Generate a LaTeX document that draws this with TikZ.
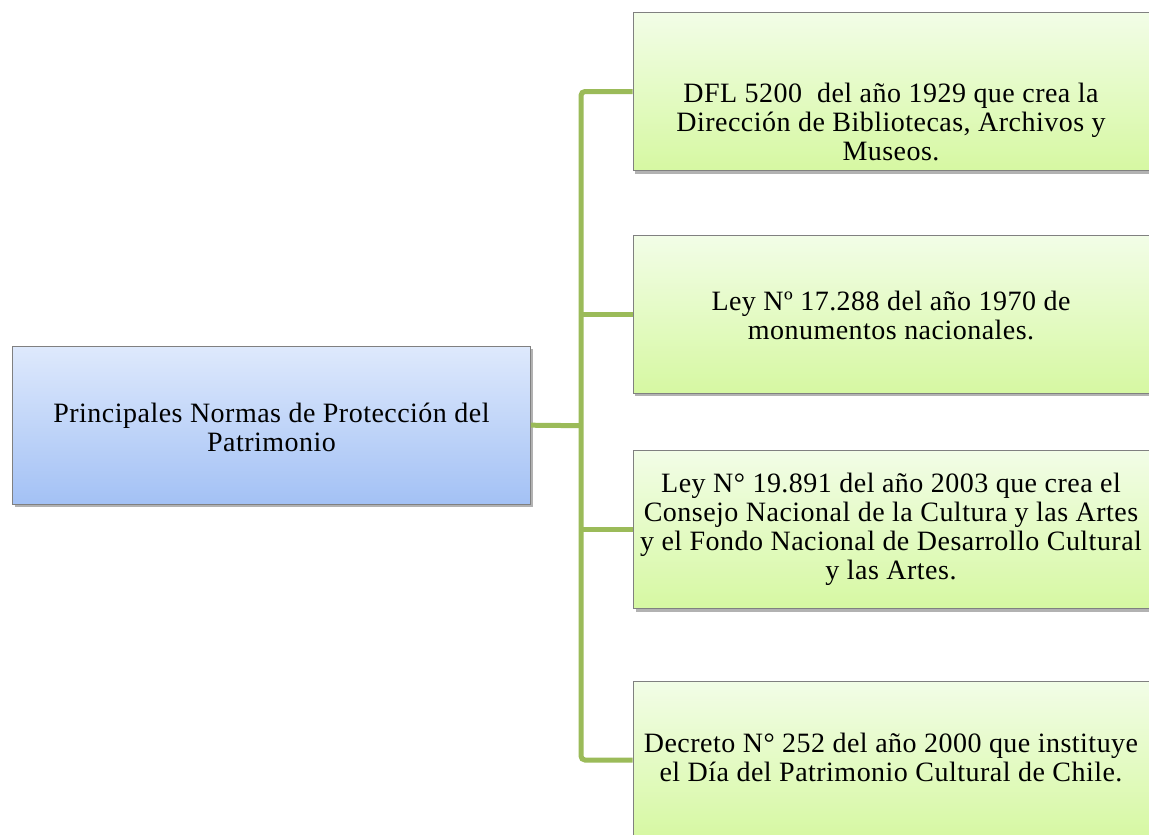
\documentclass[tikz,border=0pt]{standalone}
\usepackage{fontspec}
\setmainfont{Liberation Serif}
\newfontfamily\tnr[LetterSpace=1.7]{Liberation Serif}
\usetikzlibrary{shadows}
\definecolor{connc}{HTML}{9BBB59}
\definecolor{boxline}{HTML}{808080}
\definecolor{bluetop}{HTML}{DEE9FC}
\definecolor{bluebot}{HTML}{A3C1F5}
\definecolor{greentop}{HTML}{F2FDE7}
\definecolor{greenbot}{HTML}{D6F8A2}
\begin{document}
\begin{tikzpicture}[x=1pt,y=-1pt,
  box/.style={draw=boxline, line width=0.8pt, inner sep=0pt, minimum height=158pt,
    drop shadow={shadow xshift=2pt,shadow yshift=-3pt,fill=black,opacity=0.3}},
  bluebox/.style={box, top color=bluetop, bottom color=bluebot, minimum width=518pt},
  greenbox/.style={box, top color=greentop, bottom color=greenbot, minimum width=517pt},
  txt/.style={align=center, font=\tnr\fontsize{28}{29}\selectfont, inner sep=0pt},
  link/.style={draw=connc, line width=5pt, rounded corners=4pt}]
\useasboundingbox (0,0) rectangle (1149,835);
\fill[white] (0,0) rectangle (1149,835);
% boxes
\node[bluebox] (left) at (271.5,425.2) {};
\node[greenbox] (b1) at (891.5,91.5) {};
\node[greenbox] (b2) at (891.5,314.2) {};
\node[greenbox] (b3) at (892,529.5) {};
\node[greenbox] (b4) at (891.5,760) {};
% texts
\node[txt] (tl) at (271.5,427) {Principales Normas de Protección del\\Patrimonio};
\node[txt] (t1) at (891,122) {DFL 5200 \ del año 1929 que crea la\\Dirección de Bibliotecas, Archivos y\\Museos.};
\node[txt] (t2) at (891,315) {Ley Nº 17.288 del año 1970 de\\monumentos nacionales.};
\node[txt] (t3) at (891,529) {Ley N° 19.891 del año 2003 que crea el\\Consejo Nacional de la Cultura y las Artes\\y el Fondo Nacional de Desarrollo Cultural\\y las Artes.};
\node[txt] (t4) at (891,757) {Decreto N° 252 del año 2000 que instituye\\el Día del Patrimonio Cultural de Chile.};
% connectors
\coordinate (j) at (581,425.7);
\draw[link] (left.east) -- (j);
\draw[link] (b1.west) -- (b1.west -| j) -- (b4.west -| j) -- (b4.west);
\draw[link] (b2.west -| j) -- (b2.west);
\draw[link] (b3.west -| j) -- (b3.west);
\end{tikzpicture}
\end{document}
